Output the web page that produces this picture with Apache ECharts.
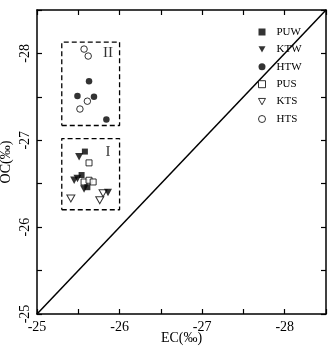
<!DOCTYPE html>
<html>
<head>
<meta charset="utf-8">
<script src="https://cdn.jsdelivr.net/npm/echarts@6/dist/echarts.min.js"></script>
<style>
  html, body { margin: 0; padding: 0; background: #fff; }
  #chart { width: 329px; height: 350px; }
</style>
</head>
<body>
<div id="chart"></div>
<script>
// isotope values (EC on x, OC on y)
const puwEC = [-25.58, -25.54, -25.61]
const puwOC = [-26.87, -26.60, -26.46]
const ktwEC = [-25.51, -25.45, -25.49, -25.57, -25.86]
const ktwOC = [-26.81, -26.54, -26.56, -26.44, -26.40]
const htwEC = [-25.63, -25.49, -25.69, -25.84]
const htwOC = [-27.68, -27.51, -27.50, -27.24]
const pusEC = [-25.63, -25.57, -25.63, -25.68]
const pusOC = [-26.74, -26.52, -26.54, -26.52]
const ktsEC = [-25.41, -25.76, -25.80]
const ktsOC = [-26.33, -26.31, -26.39]
const htsEC = [-25.57, -25.62, -25.61, -25.52]
const htsOC = [-28.05, -27.97, -27.45, -27.36]

// dashed group boxes [ecLeft, ecRight, ocLow, ocHigh]
const boxI = [-25.3, -26.0, -26.2, -27.02]
const boxII = [-25.3, -26.0, -27.17, -28.13]
const boxLabels = ['I', 'II']
const boxLabelPos = [[-25.86, -26.86], [-25.86, -28.0]]

const axisRange = [-28.5, -25]

const font = 'Liberation Serif'
const zip = (xs, ys) => xs.map((x, i) => [x, ys[i]])
const rectPath = b => [[b[0], b[2]], [b[1], b[2]], [b[1], b[3]], [b[0], b[3]], [b[0], b[2]]]
const downTri = 'path://M0,0 L10,0 L5,9 Z'

const filled = { color: '#000' }
const open = { color: '#fff', borderColor: '#000', borderWidth: 1 }

const chart = echarts.init(document.getElementById('chart'))

const baseAxis = {
  type: 'value',
  min: axisRange[0],
  max: axisRange[1],
  inverse: true,
  interval: 0.5,
  splitLine: { show: false },
  axisLine: { onZero: false, lineStyle: { color: '#000', width: 1.5 } },
  axisTick: { inside: true, length: 5, lineStyle: { color: '#000', width: 1.2 } }
}
const tickFmt = v => (Math.abs(v - Math.round(v)) < 1e-6 && v > -28.4) ? String(v) : ''

const legendItems = [
  { name: 'PUW', icon: 'rect', itemStyle: filled },
  { name: 'KTW', icon: downTri, itemStyle: filled },
  { name: 'HTW', icon: 'circle', itemStyle: filled },
  { name: 'PUS', icon: 'rect', itemStyle: open },
  { name: 'KTS', icon: downTri, itemStyle: open },
  { name: 'HTS', icon: 'circle', itemStyle: open }
]

chart.setOption({
  animation: false,
  grid: { left: 37, right: 3, top: 10, bottom: 36, containLabel: false, outerBoundsMode: 'none' },
  legend: {
    orient: 'vertical',
    left: 253,
    top: 21,
    itemWidth: 7,
    itemHeight: 7,
    itemGap: 5.4,
    textStyle: { fontFamily: font, fontSize: 11, color: '#000', lineHeight: 12, padding: [0, 0, 0, 6] },
    data: legendItems
  },
  xAxis: [
    Object.assign({}, baseAxis, {
      position: 'bottom',
      name: 'EC(‰)',
      nameLocation: 'middle',
      nameGap: 17,
      nameMoveOverlap: false,
      nameTextStyle: { fontFamily: font, fontSize: 14, color: '#000' },
      axisLabel: { margin: 6, fontFamily: font, fontSize: 14, color: '#000', formatter: tickFmt }
    }),
    Object.assign({}, baseAxis, { position: 'top', axisLabel: { show: false } })
  ],
  yAxis: [
    Object.assign({}, baseAxis, {
      position: 'left',
      name: 'OC(‰)',
      nameLocation: 'middle',
      nameGap: 24,
      nameRotate: 90,
      nameMoveOverlap: false,
      nameTextStyle: { fontFamily: font, fontSize: 14, color: '#000' },
      axisLabel: { margin: 5, rotate: 90, fontFamily: font, fontSize: 14, color: '#000', formatter: tickFmt }
    }),
    Object.assign({}, baseAxis, { position: 'right', axisLabel: { show: false } })
  ],
  series: [
    {
      type: 'line', data: [[axisRange[1], axisRange[1]], [axisRange[0], axisRange[0]]],
      showSymbol: false, lineStyle: { color: '#000', width: 1.5 }, silent: true, z: 1
    },
    {
      type: 'line', data: rectPath(boxI), showSymbol: false, silent: true,
      lineStyle: { color: '#000', width: 1.3, type: [5, 3] }
    },
    {
      type: 'line', data: rectPath(boxII), showSymbol: false, silent: true,
      lineStyle: { color: '#000', width: 1.3, type: [5, 3] }
    },
    {
      type: 'scatter', data: boxLabelPos, symbolSize: 0, silent: true,
      label: {
        show: true, position: 'inside', fontFamily: font, fontSize: 15, color: '#000',
        formatter: p => boxLabels[p.dataIndex]
      }
    },
    { name: 'PUW', type: 'scatter', data: zip(puwEC, puwOC), symbol: 'rect', symbolSize: 6, itemStyle: filled, z: 5 },
    { name: 'KTW', type: 'scatter', data: zip(ktwEC, ktwOC), symbol: downTri, symbolSize: [8, 7.5], itemStyle: filled, z: 5 },
    { name: 'HTW', type: 'scatter', data: zip(htwEC, htwOC), symbol: 'circle', symbolSize: 6.5, itemStyle: filled, z: 5 },
    { name: 'PUS', type: 'scatter', data: zip(pusEC, pusOC), symbol: 'rect', symbolSize: 6, itemStyle: open, z: 4 },
    { name: 'KTS', type: 'scatter', data: zip(ktsEC, ktsOC), symbol: downTri, symbolSize: [8, 7], itemStyle: open, z: 4 },
    { name: 'HTS', type: 'scatter', data: zip(htsEC, htsOC), symbol: 'circle', symbolSize: 6.5, itemStyle: open, z: 4 }
  ]
})
</script>
</body>
</html>
